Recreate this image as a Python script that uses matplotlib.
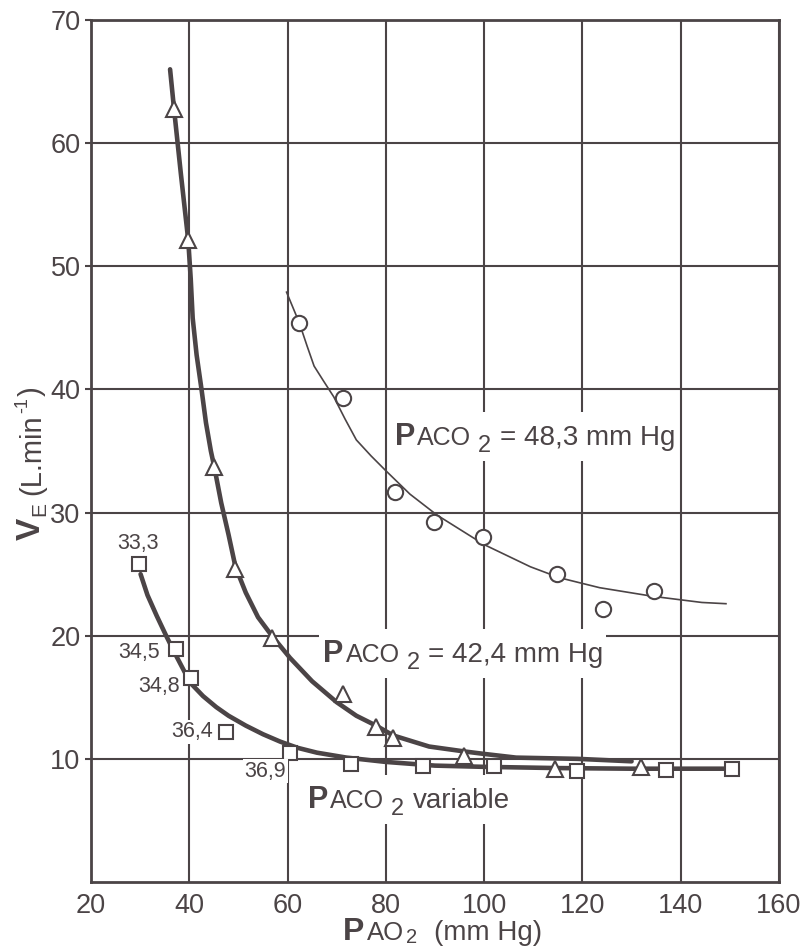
import matplotlib
matplotlib.use("Agg")
import matplotlib.pyplot as plt
from matplotlib.patches import Rectangle

plt.rcParams['font.family'] = ['Liberation Sans', 'DejaVu Sans']

INK = '#4b4446'

# PACO2 = 48,3 mm Hg (circles)
circ_x = [62.4, 71.2, 81.9, 89.7, 99.8, 114.8, 124.1, 134.5]
circ_y = [45.4, 39.3, 31.7, 29.2, 28.0, 25.0, 22.2, 23.6]
circ_fit_x = [59.8, 62.4, 64.0, 65.4, 67.3, 69.4, 71.7, 74.0, 77.0, 80.0, 84.9, 90.4, 100.0,
              109.4, 115.4, 123.5, 134.3, 144.3, 149.2]
circ_fit_y = [47.9, 45.4, 43.5, 41.9, 40.7, 39.4, 37.6, 35.9, 34.6, 33.4, 31.5, 29.8, 27.4,
              25.6, 24.7, 23.9, 23.2, 22.7, 22.6]

# PACO2 = 42,4 mm Hg (triangles)
tri_x = [36.9, 39.8, 45.1, 49.4, 56.8, 71.3, 78.0, 81.5, 95.9, 114.4, 132.0]
tri_y = [62.8, 52.1, 33.7, 25.4, 19.8, 15.3, 12.6, 11.7, 10.2, 9.2, 9.35]
tri_fit_x = [36.1, 36.9, 38.3, 39.8, 40.3, 40.7, 41.5, 42.5, 43.4, 44.4, 45.1, 46.5, 48.0, 49.4,
             51.5, 54.0, 56.8, 60.5, 65.0, 70.0, 74.0, 78.0, 81.5, 88.8, 96.0, 100.0, 106.5, 119.0, 130.0]
tri_fit_y = [66.0, 62.8, 57.5, 52.1, 49.0, 45.8, 42.8, 40.0, 37.3, 35.0, 33.7, 30.8, 28.2, 25.6,
             23.5, 21.5, 20.0, 18.2, 16.3, 14.6, 13.5, 12.7, 11.9, 11.0, 10.6, 10.4, 10.1, 10.0, 9.8]

# PACO2 variable (squares) + PACO2 values next to points
sq_x = [29.8, 37.3, 40.4, 47.4, 60.4, 72.9, 87.6, 102.0, 118.8, 137.1, 150.5]
sq_y = [25.8, 18.9, 16.6, 12.2, 10.5, 9.6, 9.4, 9.4, 9.0, 9.1, 9.2]
sq_fit_x = [30.1, 31.5, 33.4, 35.3, 37.3, 39.0, 40.4, 42.8, 45.5, 48.0, 51.5, 55.0, 58.5, 62.0,
            66.0, 72.0, 80.0, 90.0, 100.0, 115.0, 130.0, 150.5]
sq_fit_y = [25.0, 23.3, 21.6, 20.0, 18.4, 17.1, 16.1, 15.1, 14.2, 13.5, 12.7, 12.0, 11.4, 10.9,
            10.5, 10.1, 9.75, 9.45, 9.35, 9.25, 9.2, 9.2]
paco_labels = ["33,3", "34,5", "34,8", "36,4", "36,9"]
paco_lab_x = [29.6, 29.8, 33.9, 40.6, 55.5]
paco_lab_y = [27.5, 18.6, 15.9, 12.2, 9.0]

x_ticks = [20, 40, 60, 80, 100, 120, 140, 160]
y_ticks = [10, 20, 30, 40, 50, 60, 70]

fig = plt.figure(figsize=(8.12, 9.5), dpi=100)
ax = fig.add_axes([0.112, 0.0716, 0.8474, 0.9073])
ax.set_xlim(20, 160)
ax.set_ylim(0, 70)
ax.set_xticks(x_ticks)
ax.set_yticks(y_ticks)
ax.grid(True, color=INK, linewidth=1.5)
ax.set_axisbelow(True)
for s in ax.spines.values():
    s.set_color(INK)
    s.set_linewidth(2)
ax.tick_params(axis='y', direction='out', length=4, width=1.5, color=INK,
               labelsize=19.5, labelcolor=INK, pad=3.5)
ax.tick_params(axis='x', length=0, labelsize=19.5, labelcolor=INK, pad=8)

mk = dict(markerfacecolor='white', markeredgecolor=INK, markeredgewidth=1.5, linestyle='none', zorder=4)
ax.plot(circ_fit_x, circ_fit_y, color=INK, lw=1.2, zorder=3)
ax.plot(circ_x, circ_y, marker='o', markersize=11, **mk)
ax.plot(tri_fit_x, tri_fit_y, color=INK, lw=3.3, zorder=3, solid_capstyle='round')
ax.plot(tri_x, tri_y, marker='^', markersize=12, **mk)
ax.plot(sq_fit_x, sq_fit_y, color=INK, lw=3.3, zorder=3, solid_capstyle='round')
ax.plot(sq_x, sq_y, marker='s', markersize=9.5, **mk)

for t, x, y in zip(paco_labels, paco_lab_x, paco_lab_y):
    ax.text(x, y, t, fontsize=15.5, color=INK, ha='center', va='center', zorder=5,
            bbox=dict(facecolor='white', edgecolor='none', pad=1))


def rich(parts, xy, xycoords='data', rot=0, box=False):
    # parts: (text, size, bold, shift, gap before) -- shift/gap in points
    r = fig.canvas.get_renderer()
    along = 0.0
    bbs = []
    for s, size, bold, shift, gap in parts:
        along += gap
        off = (along, shift) if rot == 0 else (-shift, along)
        t = ax.annotate(s, xy, xycoords=xycoords, xytext=off, textcoords='offset points',
                        fontsize=size, fontweight='bold' if bold else 'normal', color=INK,
                        rotation=rot, rotation_mode='anchor', ha='left', va='baseline',
                        zorder=5, annotation_clip=False)
        bb = t.get_window_extent(r)
        bbs.append(bb)
        along += (bb.width if rot == 0 else bb.height) * 72 / fig.dpi
    if box:
        x0 = min(b.x0 for b in bbs) - 4
        x1 = max(b.x1 for b in bbs) + 2
        y0 = min(b.y0 for b in bbs) - 4
        y1 = max(b.y1 for b in bbs) + 10
        inv = ax.transData.inverted()
        (dx0, dy0), (dx1, dy1) = inv.transform([(x0, y0), (x1, y1)])
        ax.add_patch(Rectangle((dx0, dy0), dx1 - dx0, dy1 - dy0, facecolor='white',
                               edgecolor='none', zorder=1))


def paco(rest):
    return [("P", 22, True, 0, 0), ("ACO", 18, False, 0, 1.5),
            ("2", 17, False, -5, 5), (rest, 20, False, 0, 6)]


rich(paco("= 48,3 mm Hg"), (81.8, 35.5), box=True)
rich(paco("= 42,4 mm Hg"), (67.3, 17.9), box=True)
rich(paco("variable"), (64.1, 6.0), box=True)

rich([("P", 23, True, 0, 0), ("AO", 18.5, False, 0, 1.5), ("2", 14.5, False, -2, 2),
      ("(mm Hg)", 20, False, 0, 12)], (71.3, -0.0673), xycoords=('data', 'axes fraction'))
rich([("V", 24, True, 0, 0), ("E", 15, False, -4, 1), ("(L.min", 21, False, 0, 5),
      ("-1", 13, False, 9, 1), (")", 21, False, 0, 1)], (-0.074, 0.397),
     xycoords='axes fraction', rot=90)

fig.savefig("out.png", dpi=100)
